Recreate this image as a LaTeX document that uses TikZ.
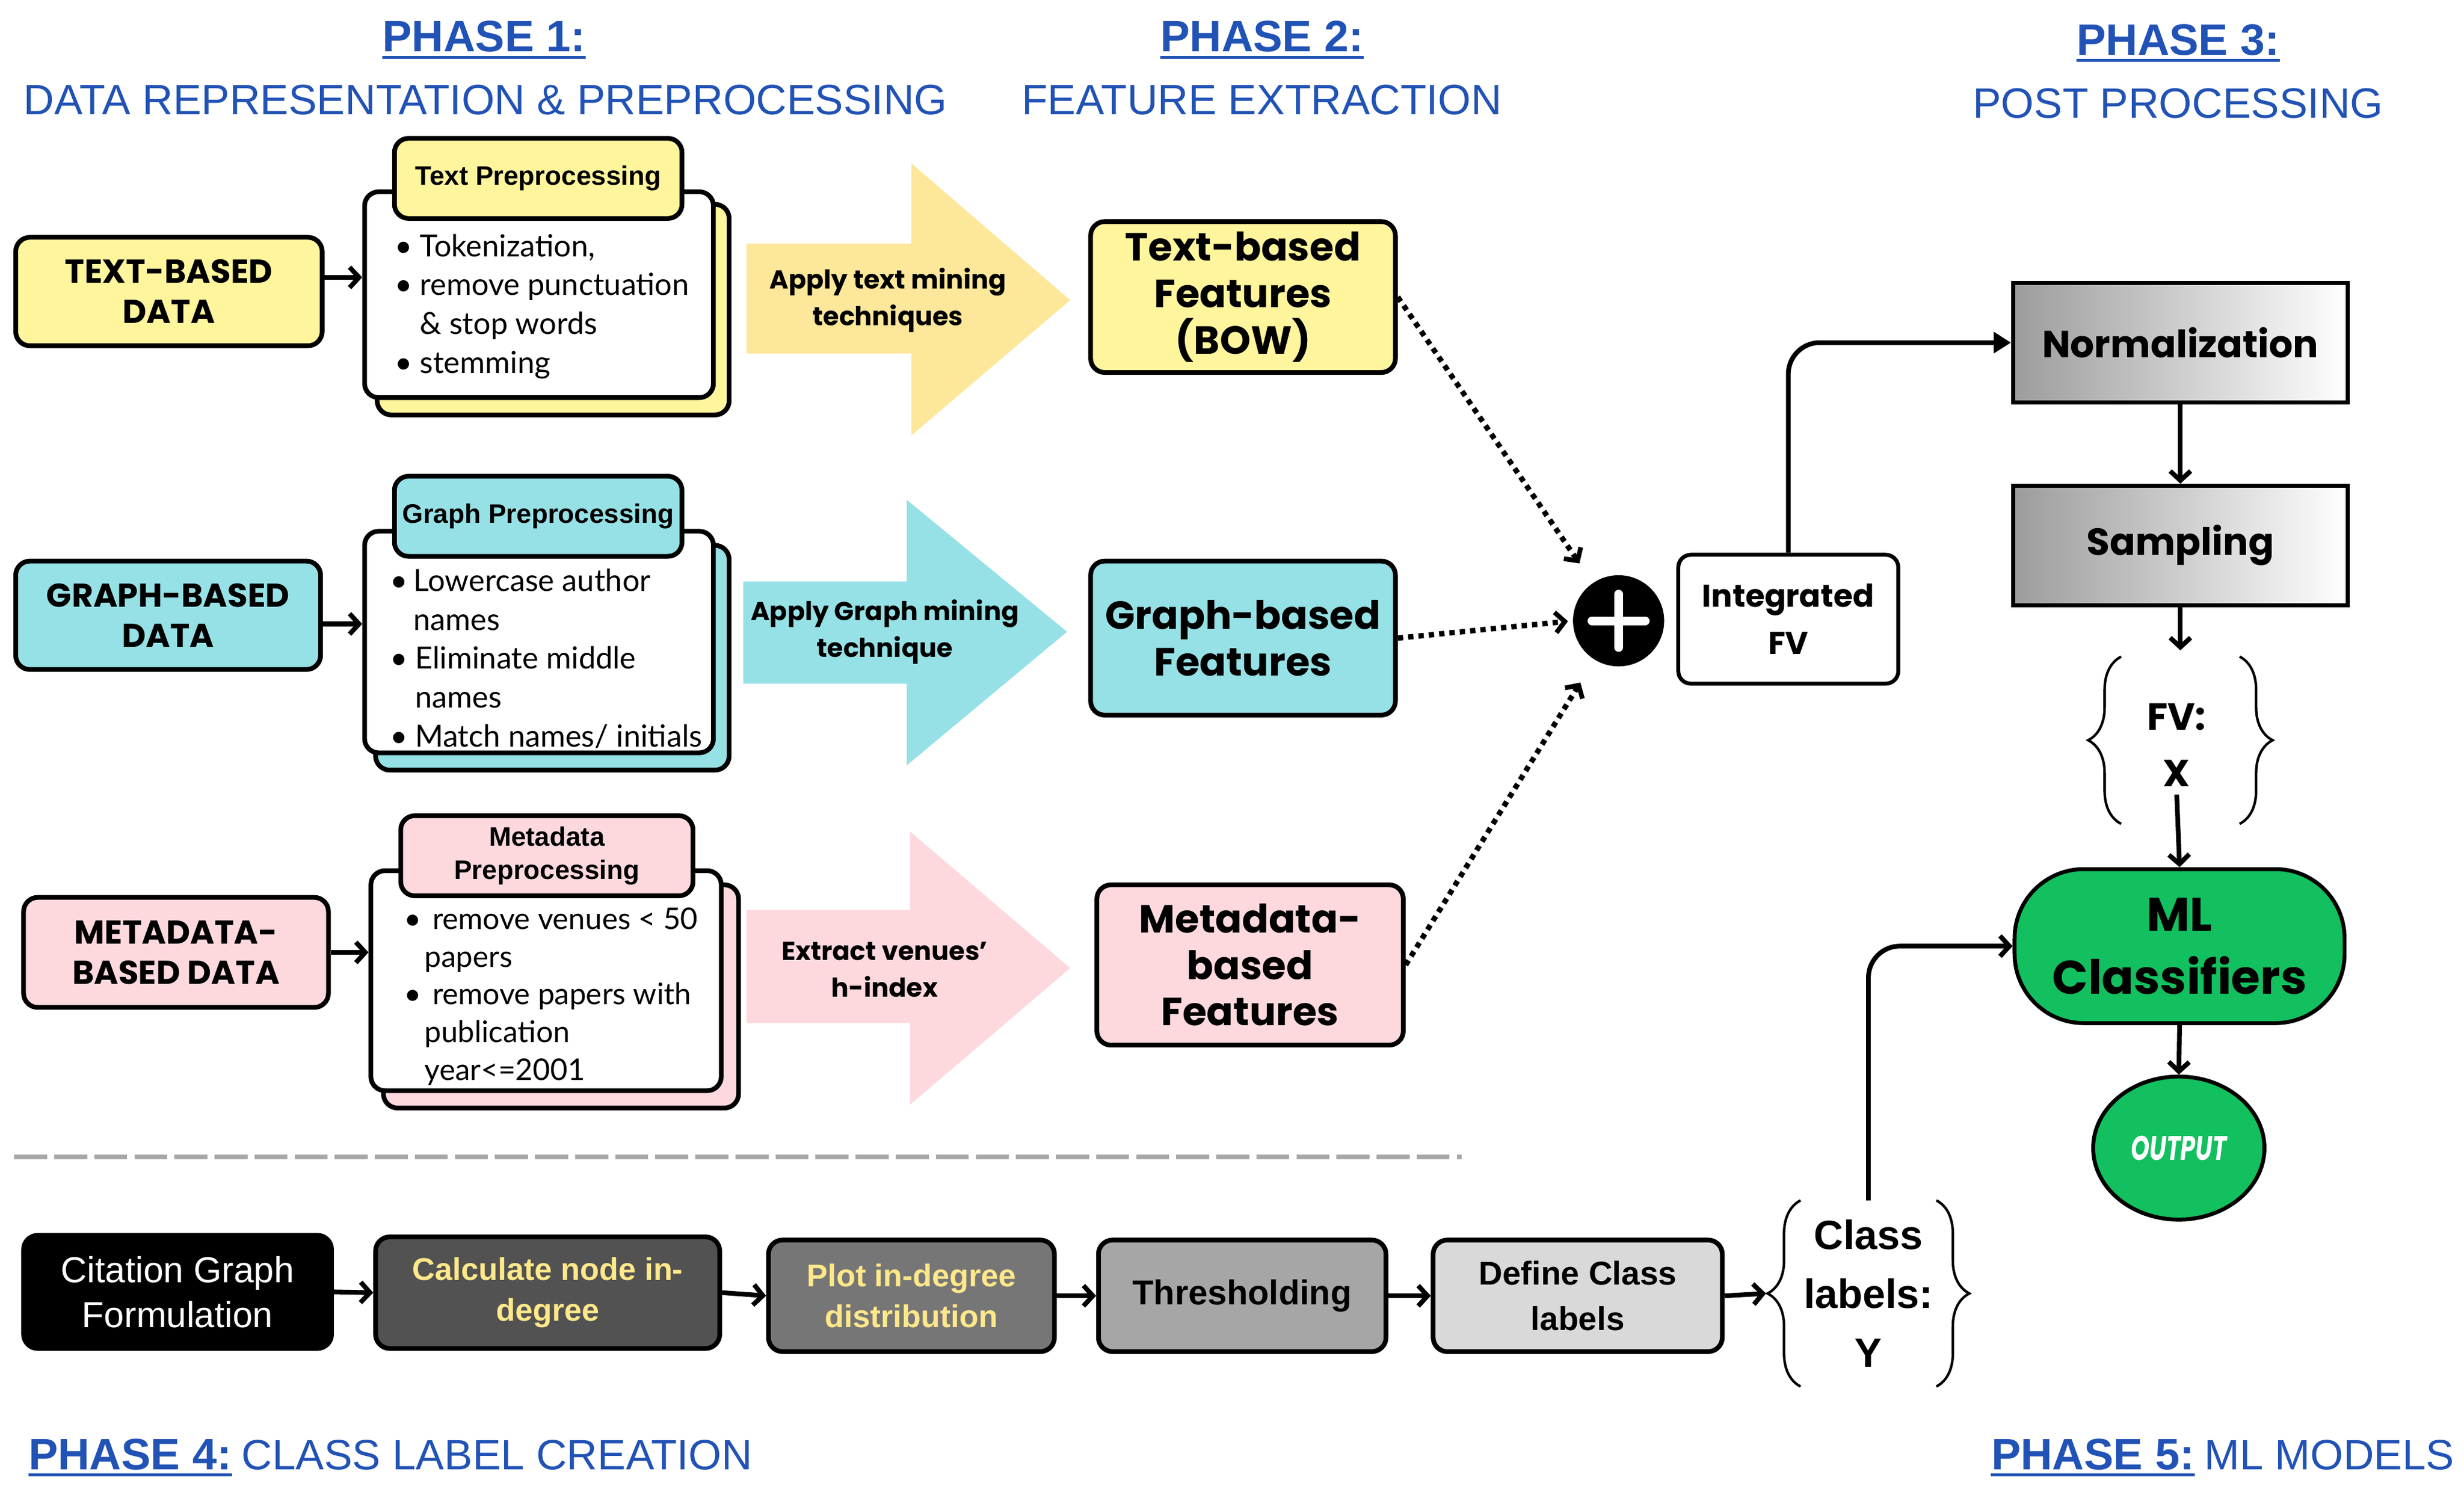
\documentclass[tikz,border=0pt]{standalone}
\usepackage{graphicx}
\usepackage{fontspec}
\setmainfont{Liberation Sans}
\newfontfamily\pop{Poppins}
\newfontfamily\lato{Lato}
\usetikzlibrary{arrows.meta,decorations.pathreplacing,calc,shapes.geometric}
\newcommand\myfs[2]{\fontsize{#1}{#2}\selectfont}
\definecolor{ttlblue}{HTML}{2152B5}
\definecolor{ylw}{HTML}{FFF59D}
\definecolor{ylwarrow}{HTML}{FDE79A}
\definecolor{cyn}{HTML}{96E1E6}
\definecolor{pnk}{HTML}{FDD9DE}
\definecolor{grn}{HTML}{12C05F}
\definecolor{txtyel}{HTML}{FFE88A}
\definecolor{gA}{HTML}{525252}
\definecolor{gB}{HTML}{767676}
\definecolor{gC}{HTML}{A6A6A6}
\definecolor{gD}{HTML}{D9D9D9}
\definecolor{dashgray}{HTML}{A8A8A8}
\definecolor{nrmgray}{HTML}{9C9C9C}
\begin{document}
\begin{tikzpicture}[x=1pt,y=-1pt,
  bx/.style={draw=black, line width=3pt, rounded corners=9pt, inner sep=0pt, align=center},
  databox/.style={bx, font=\pop\bfseries\myfs{21}{25.5}},
  tabbox/.style={bx, font=\bfseries\myfs{17}{21}},
  featbox/.style={bx, font=\pop\bfseries\myfs{25}{29.5}},
  bullets/.style={anchor=west, inner sep=0pt, align=left, font=\lato\myfs{19.4}{24.8}},
  arrlabel/.style={inner sep=0pt, align=center, font=\pop\bfseries\myfs{16.5}{23.5}},
  botbox/.style={bx, font=\bfseries\myfs{20}{26}},
  graybox/.style={draw=black, line width=2.5pt, inner sep=0pt, align=center, left color=nrmgray, right color=white, font=\pop\bfseries\myfs{24}{28}},
  conn/.style={line width=3pt, -{Straight Barb[length=6pt,width=13pt]}},
  connT/.style={line width=3pt, -{Triangle[length=11pt,width=13pt]}},
  dotconn/.style={line width=3.4pt, dash pattern=on 3.4pt off 3.2pt, -{Straight Barb[length=6pt,width=13pt,line width=3pt]}},
  ttl/.style={text=ttlblue, inner sep=0pt, anchor=base, font=\myfs{27}{32}},
  ttlb/.style={ttl, font=\bfseries\myfs{28}{32}},
  uline/.style={ttlblue, line width=1.8pt},
  bracestyle/.style={line width=1.6pt, decorate, decoration={brace, amplitude=21pt}}
]
\useasboundingbox (0,0) rectangle (1568,951);
\fill[white] (0,0) rectangle (1568,951);

% ---------- titles ----------
\node[ttlb] (p1a) at (308,33) {PHASE 1:};
\draw[uline] ([yshift=-3.5pt]p1a.base west) -- ([yshift=-3.5pt]p1a.base east);
\node[ttl] (p1b) at (309,73) {DATA REPRESENTATION \& PREPROCESSING};
\node[ttlb] (p2a) at (803,33) {PHASE 2:};
\draw[uline] ([yshift=-3.5pt]p2a.base west) -- ([yshift=-3.5pt]p2a.base east);
\node[ttl] (p2b) at (803,73) {FEATURE EXTRACTION};
\node[ttlb] (p3a) at (1386,35) {PHASE 3:};
\draw[uline] ([yshift=-3.5pt]p3a.base west) -- ([yshift=-3.5pt]p3a.base east);
\node[ttl] (p3b) at (1386,75) {POST PROCESSING};
\node[ttlb, anchor=base west] (p4a) at (18,935) {PHASE 4:};
\draw[uline] ([yshift=-3.5pt]p4a.base west) -- ([yshift=-3.5pt]p4a.base east);
\node[ttl, anchor=base west] (p4b) at ([xshift=6pt]p4a.base east) {CLASS LABEL CREATION};
\node[ttl, anchor=base east] (p5b) at (1562,935) {ML MODELS};
\node[ttlb, anchor=base east] (p5a) at ([xshift=-6pt]p5b.base west) {PHASE 5:};
\draw[uline] ([yshift=-3.5pt]p5a.base west) -- ([yshift=-3.5pt]p5a.base east);

% ---------- row 1: text ----------
\node[databox, fill=ylw, minimum width=195pt, minimum height=69pt] (tbd) at (107.5,185.5) {TEXT-BASED\\DATA};
\node[bx, fill=ylw, minimum width=224pt, minimum height=134pt] (tbk) at (352,197) {};
\node[bx, fill=white, minimum width=222pt, minimum height=131pt] (tfr) at (343,187.5) {};
\node[tabbox, fill=ylw, minimum width=183pt, minimum height=51pt] (ttab) at (342.5,113.5) {Text Preprocessing};
\node[bullets] (tbul) at (251,195) {\makebox[16pt][l]{\textbullet}Tokenization,\\
\makebox[16pt][l]{\textbullet}remove punctuation\\
\hspace*{16pt}\& stop words\\
\makebox[16pt][l]{\textbullet}stemming};
\draw[conn] ([yshift=9pt]tbd.east) -- ([yshift=9pt]tbd.east -| tfr.west);

\fill[ylwarrow] (475,155) -- (580,155) -- (580,104) -- (681,191) -- (580,277) -- (580,225) -- (475,225) -- cycle;
\node[arrlabel] (tarr) at (565,191) {Apply text mining\\techniques};
\node[featbox, fill=ylw, minimum width=194pt, minimum height=96pt] (tbf) at (791,189) {Text-based\\Features\\(BOW)};

% ---------- row 2: graph ----------
\node[databox, fill=cyn, minimum width=194pt, minimum height=69pt] (gbd) at (107,391.5) {GRAPH-BASED\\DATA};
\node[bx, fill=cyn, minimum width=225pt, minimum height=143pt] (gbk) at (351.5,418.5) {};
\node[bx, fill=white, minimum width=222pt, minimum height=141pt] (gfr) at (343,408.5) {};
\node[tabbox, fill=cyn, minimum width=183pt, minimum height=51pt] (gtab) at (342.5,328.5) {Graph Preprocessing};
\node[bullets] (gbul) at (248,419) {\makebox[15pt][l]{\textbullet}Lowercase author\\
\hspace*{15pt}names\\
\makebox[16pt][l]{\textbullet}Eliminate middle\\
\hspace*{16pt}names\\
\makebox[16pt][l]{\textbullet}Match names/ initials};
\draw[conn] ([yshift=-5.5pt]gbd.east) -- ([yshift=-5.5pt]gbd.east -| gfr.west);

\fill[cyn] (473,370) -- (577,370) -- (577,318) -- (679,402) -- (577,487) -- (577,435) -- (473,435) -- cycle;
\node[arrlabel] (garr) at (563,402) {Apply Graph mining\\technique};
\node[featbox, fill=cyn, minimum width=194pt, minimum height=98pt] (gbf) at (791,406) {Graph-based\\Features};

% ---------- row 3: metadata ----------
\node[databox, fill=pnk, minimum width=194pt, minimum height=70pt] (mbd) at (112,606) {METADATA-\\BASED DATA};
\node[bx, fill=pnk, minimum width=226pt, minimum height=142pt] (mbk) at (357,634) {};
\node[bx, fill=white, minimum width=223pt, minimum height=140pt] (mfr) at (347.5,624) {};
\node[tabbox, fill=pnk, minimum width=186pt, minimum height=51pt] (mtab) at (348,544.5) {Metadata\\Preprocessing};
\node[bullets, font=\lato\myfs{19}{24}] (mbul) at (257,634) {\makebox[18pt][l]{\textbullet}remove venues < 50\\
\hspace*{13pt}papers\\
\makebox[18pt][l]{\textbullet}remove papers with\\
\hspace*{13pt}publication\\
\hspace*{13pt}year<=2001};
\draw[conn] (mbd.east) -- (mbd.east -| mfr.west);

\fill[pnk] (475,579) -- (579,579) -- (579,529) -- (681,616) -- (579,703) -- (579,651) -- (475,651) -- cycle;
\node[arrlabel] (marr) at (563,617) {Extract venues’\\h-index};
\node[featbox, fill=pnk, minimum width=195pt, minimum height=102pt] (mbf) at (795.5,614) {Metadata-\\based\\Features};

% ---------- integration ----------
\node[circle, fill=black, minimum size=58pt, inner sep=0pt] (plus) at (1030,395) {};
\draw[white, line width=5.5pt, line cap=round] ([xshift=-17pt]plus.center) -- ([xshift=17pt]plus.center);
\draw[white, line width=5.5pt, line cap=round] ([yshift=-17pt]plus.center) -- ([yshift=17pt]plus.center);
\draw[dotconn, shorten >=15pt] (tbf.east) -- (plus);
\draw[dotconn, shorten >=3pt] (gbf.east) -- (plus.west);
\draw[dotconn, shorten >=17pt] (mbf.east) -- (plus);

\node[bx, line width=2.5pt, rounded corners=8pt, fill=white, minimum width=140pt, minimum height=82pt, font=\pop\bfseries\myfs{20}{30}] (ifv) at (1138,394) {Integrated\\FV};

% ---------- phase 3 ----------
\node[graybox, minimum width=213pt, minimum height=76pt] (norm) at (1387.5,218) {Normalization};
\node[graybox, minimum width=213pt, minimum height=76pt] (samp) at (1387.5,347) {Sampling};
\draw[connT, rounded corners=20pt] (ifv.north) |- (norm.west);
\draw[conn] (norm.south) -- (samp.north);

\node[minimum width=75pt, minimum height=106pt, inner sep=0pt] (fvb) at (1387.5,471) {};
\node[inner sep=0pt, align=center, font=\pop\bfseries\myfs{24}{36}] (fvt) at (1385,474) {FV:\\X};
\draw[bracestyle] (fvb.south west) -- (fvb.north west);
\draw[bracestyle] (fvb.north east) -- (fvb.south east);
\draw[conn] (samp.south) -- ([yshift=4pt]fvb.north);

\node[bx, line width=2.5pt, rounded corners=44pt, fill=grn, minimum width=210pt, minimum height=98pt, font=\pop\bfseries\myfs{30}{40}] (ml) at (1387,602) {ML\\Classifiers};
\draw[conn, shorten <=5pt] (fvt.south) -- (ml.north);
\node[ellipse, draw=black, line width=2.5pt, fill=grn, minimum width=109pt, minimum height=91pt, inner sep=0pt, text=white, font=\pop\bfseries\itshape\myfs{16}{16}] (out) at (1386.5,730.5) {\scalebox{0.95}[1.35]{OUTPUT}};
\draw[conn] (ml.south) -- (out.north);

% ---------- separator ----------
\coordinate (dl1) at (9,736);
\coordinate (dl2) at (930,736);
\draw[dashgray, line width=3pt, dash pattern=on 21pt off 4.5pt] (dl1) -- (dl2);

% ---------- phase 4 ----------
\node[bx, fill=black, text=white, minimum width=196pt, minimum height=72pt, font=\myfs{23}{28.5}] (cit) at (113,822) {Citation Graph\\Formulation};
\node[botbox, fill=gA, text=txtyel, minimum width=219pt, minimum height=71pt] (calc) at (348.5,822.5) {Calculate node in-\\degree};
\node[botbox, fill=gB, text=txtyel, minimum width=182pt, minimum height=71pt] (plot) at (580,824.5) {Plot in-degree\\distribution};
\node[botbox, fill=gC, minimum width=183pt, minimum height=71pt, font=\bfseries\myfs{22}{28}] (thr) at (790.5,824.5) {Thresholding};
\node[botbox, fill=gD, minimum width=184pt, minimum height=71pt, font=\bfseries\myfs{21}{29}] (def) at (1004,824.5) {Define Class\\labels};
\draw[conn] (cit.east) -- (calc.west);
\draw[conn] (calc.east) -- (plot.west);
\draw[conn] (plot.east) -- (thr.west);
\draw[conn] (thr.east) -- (def.west);

\node[minimum width=86pt, minimum height=118pt, inner sep=0pt, align=center, font=\bfseries\myfs{26}{37.5}] (cls) at (1189,823) {Class\\labels:\\Y};
\draw[bracestyle] (cls.south west) -- (cls.north west);
\draw[bracestyle] (cls.north east) -- (cls.south east);
\draw[conn] (def.east) -- ([xshift=-22pt]cls.west);
\draw[conn, rounded corners=20pt] (cls.north) |- (ml.west);
\end{tikzpicture}
\end{document}
